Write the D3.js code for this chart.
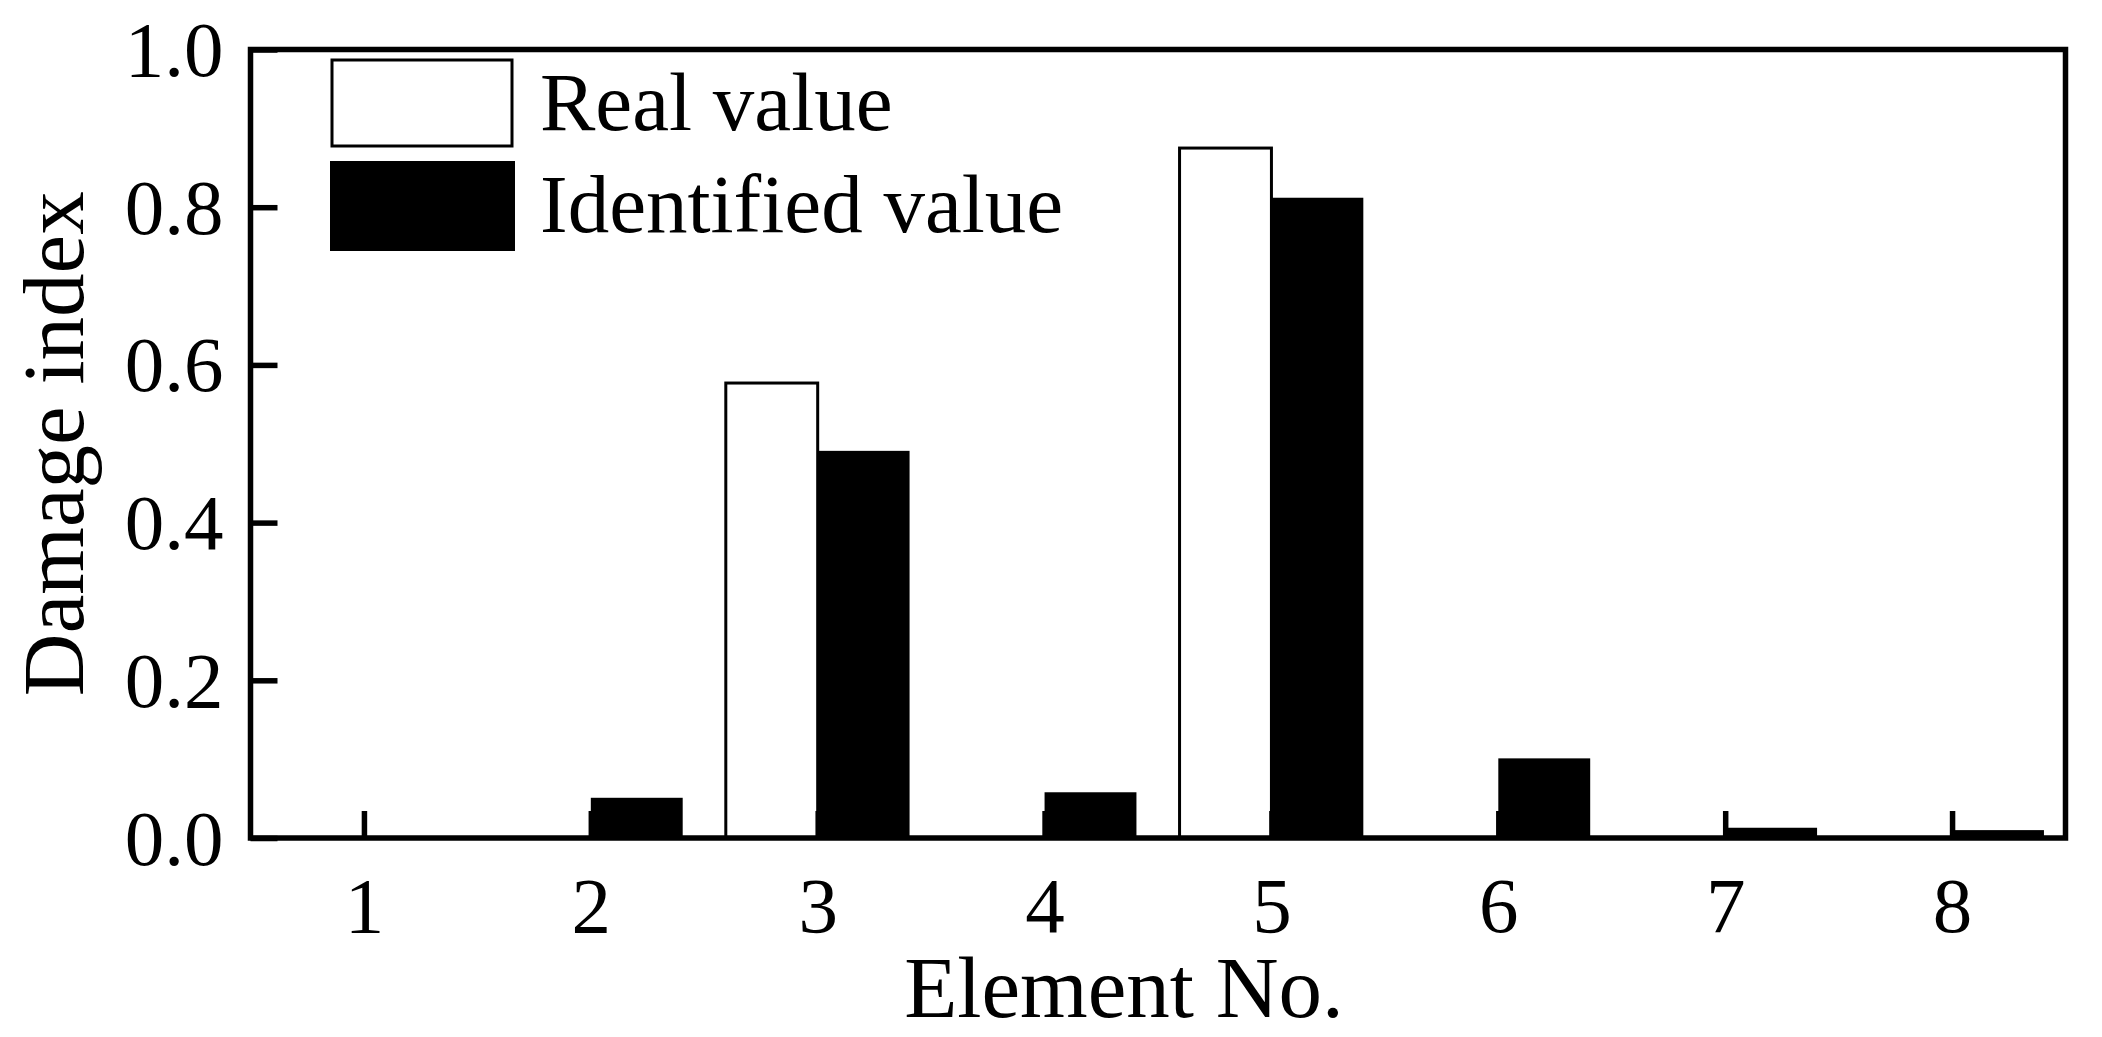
<!DOCTYPE html>
<html>
<head>
<meta charset="utf-8">
<script src="https://cdn.jsdelivr.net/npm/d3@7"></script>
<style>
  html, body { margin: 0; padding: 0; background: #fff; }
  svg { display: block; }
  text { font-family: "Liberation Serif", "Times New Roman", serif; fill: #000; }
</style>
</head>
<body>
<svg id="chart" width="2102" height="1037"></svg>
<script>
const categories = [1, 2, 3, 4, 5, 6, 7, 8];
const realValues = [0, 0, 0.577, 0, 0.875, 0, 0, 0];
const identifiedValues = [0, 0.051, 0.491, 0.058, 0.812, 0.101, 0.013, 0.010];
const yTicks = [0.0, 0.2, 0.4, 0.6, 0.8, 1.0];
const seriesNames = ["Real value", "Identified value"];
const xTitle = "Element No.";
const yTitle = "Damage index";

(function () {
const svg = d3.select("#chart");
const pL = 250.5, pR = 2065.5, pT = 49.5, pB = 838;
const x = d3.scaleLinear().domain([0.5, 8.5]).range([pL, pR]);
const y = d3.scaleLinear().domain([0, 1]).range([pB, pT]);
const barW = 0.405;

// bars
const g = svg.append("g");
g.selectAll("rect.real").data(categories).join("rect")
  .attr("class", "real")
  .attr("x", (d) => x(d - barW))
  .attr("width", (d) => x(d) - x(d - barW))
  .attr("y", (d, i) => y(realValues[i]))
  .attr("height", (d, i) => y(0) - y(realValues[i]))
  .attr("fill", "#fff").attr("stroke", "#000").attr("stroke-width", 3);

g.selectAll("rect.ident").data(categories).join("rect")
  .attr("class", "ident")
  .attr("x", (d) => x(d))
  .attr("width", (d) => x(d + barW) - x(d))
  .attr("y", (d, i) => y(identifiedValues[i]))
  .attr("height", (d, i) => y(0) - y(identifiedValues[i]))
  .attr("fill", "#000");

// axes
const xAxis = svg.append("g").attr("transform", `translate(0,${pB})`)
  .call(d3.axisBottom(x).tickValues(categories).tickSizeInner(-27).tickSizeOuter(0).tickFormat(d3.format("d")));
xAxis.select(".domain").remove();
xAxis.selectAll(".tick line").attr("stroke", "#000").attr("stroke-width", 5.5);
xAxis.selectAll(".tick text").attr("y", 94).attr("dy", null)
  .attr("fill", "#000").style("font-size", "79px");

const yAxis = svg.append("g").attr("transform", `translate(${pL},0)`)
  .call(d3.axisLeft(y).tickValues(yTicks).tickSizeInner(-27).tickSizeOuter(0).tickFormat(d3.format(".1f")));
yAxis.select(".domain").remove();
yAxis.selectAll(".tick line").attr("stroke", "#000").attr("stroke-width", 5.5);
yAxis.selectAll(".tick text").attr("x", -27).attr("dy", null).attr("y", 26)
  .attr("text-anchor", "end").attr("fill", "#000").style("font-size", "79px");

// frame
svg.append("rect")
  .attr("x", pL).attr("y", pT)
  .attr("width", pR - pL).attr("height", pB - pT)
  .attr("fill", "none").attr("stroke", "#000").attr("stroke-width", 5.5);

// axis titles
svg.append("text")
  .attr("x", 1124).attr("y", 1017)
  .attr("text-anchor", "middle")
  .style("font-size", "87px")
  .text(xTitle);

svg.append("text")
  .attr("transform", `translate(83,${(pT + pB) / 2}) rotate(-90)`)
  .attr("text-anchor", "middle")
  .style("font-size", "87px")
  .text(yTitle);

// legend
const leg = svg.append("g");
leg.append("rect").attr("x", 332).attr("y", 60).attr("width", 180).attr("height", 86)
  .attr("fill", "#fff").attr("stroke", "#000").attr("stroke-width", 3);
leg.append("rect").attr("x", 330).attr("y", 161).attr("width", 185).attr("height", 90)
  .attr("fill", "#000");
leg.append("text").attr("x", 540).attr("y", 130).style("font-size", "83px").text(seriesNames[0]);
leg.append("text").attr("x", 540).attr("y", 232).style("font-size", "83px").text(seriesNames[1]);
})();
</script>
</body>
</html>
